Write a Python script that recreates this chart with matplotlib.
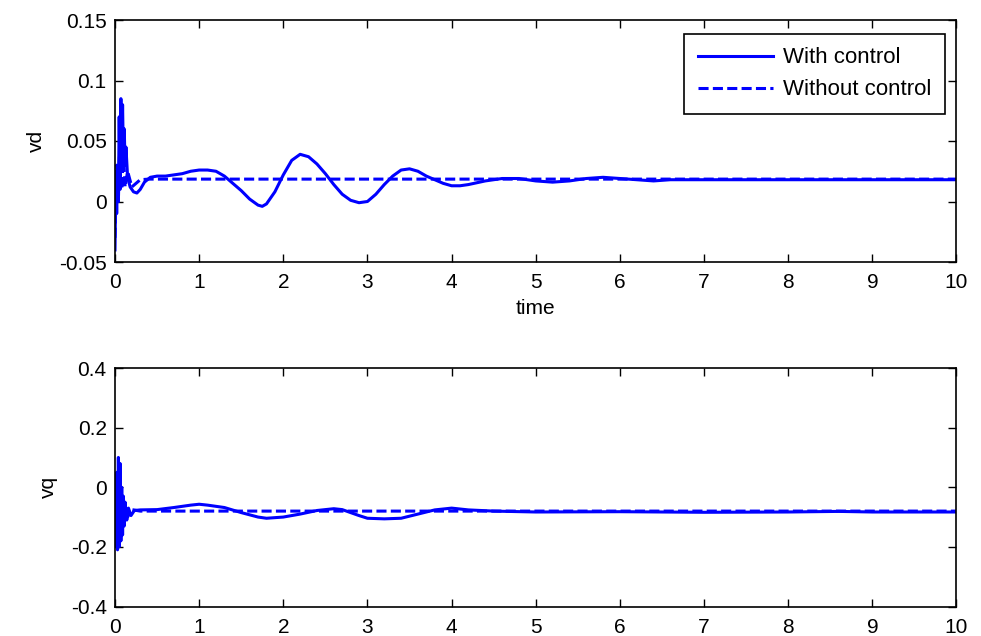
import matplotlib
matplotlib.use("Agg")
import matplotlib.pyplot as plt

plt.rcParams['font.family'] = ['Liberation Sans', 'DejaVu Sans']

# ---------------- data ----------------
t_vd_ctrl = [0, 0.01, 0.02, 0.03, 0.04, 0.05, 0.06, 0.07, 0.08, 0.09, 0.10, 0.11,
             0.12, 0.13, 0.15, 0.18, 0.22, 0.26, 0.30, 0.35, 0.42, 0.5, 0.6, 0.7,
             0.8, 0.9, 1.0, 1.1, 1.2, 1.3, 1.4, 1.5, 1.6, 1.7, 1.75, 1.8, 1.9, 2.0,
             2.1, 2.2, 2.3, 2.4, 2.5, 2.6, 2.7, 2.8, 2.9, 3.0, 3.1, 3.2, 3.3, 3.4,
             3.5, 3.6, 3.7, 3.8, 3.9, 4.0, 4.1, 4.2, 4.4, 4.6, 4.8, 5.0, 5.2, 5.4,
             5.6, 5.8, 6.0, 6.2, 6.4, 6.6, 7.0, 8.0, 9.0, 10.0]
vd_ctrl = [-0.04, 0.02, -0.01, 0.02, 0.0, 0.07, 0.01, 0.085, 0.03, 0.08, 0.035, 0.06,
           0.03, 0.045, 0.02, 0.012, 0.008, 0.007, 0.010, 0.016, 0.020, 0.021, 0.021, 0.022,
           0.023, 0.025, 0.026, 0.026, 0.025, 0.021, 0.015, 0.009, 0.002, -0.003, -0.004, -0.002, 0.008, 0.022,
           0.034, 0.039, 0.037, 0.031, 0.023, 0.014, 0.006, 0.001, -0.001, 0.0, 0.006, 0.014, 0.021, 0.026,
           0.027, 0.025, 0.021, 0.018, 0.015, 0.013, 0.013, 0.014, 0.017, 0.019, 0.019, 0.017, 0.016, 0.017,
           0.019, 0.020, 0.019, 0.018, 0.017, 0.018, 0.018, 0.018, 0.018, 0.018]

t_vd_nctrl = [0, 0.02, 0.04, 0.06, 0.08, 0.10, 0.12, 0.15, 0.20, 0.25, 0.30, 0.40, 10.0]
vd_nctrl = [-0.03, 0.03, 0.0, 0.06, 0.01, 0.04, 0.012, 0.025, 0.012, 0.015, 0.018, 0.0185, 0.0185]

t_vq_ctrl = [0, 0.01, 0.02, 0.03, 0.04, 0.05, 0.06, 0.07, 0.08, 0.09, 0.10, 0.11, 0.12,
             0.14, 0.16, 0.19, 0.23, 0.3, 0.5, 0.7, 0.9, 1.0, 1.1, 1.3, 1.5, 1.7, 1.8,
             2.0, 2.2, 2.4, 2.6, 2.7, 2.9, 3.0, 3.2, 3.4, 3.6, 3.8, 4.0, 4.2, 4.5,
             5.0, 6.0, 7.0, 8.0, 8.6, 9.0, 10.0]
vq_ctrl = [0.0, -0.2, 0.05, -0.21, 0.1, -0.2, 0.08, -0.18, 0.0, -0.16, -0.03, -0.13, -0.05,
           -0.11, -0.07, -0.095, -0.078, -0.076, -0.075, -0.068, -0.060, -0.057, -0.060, -0.068, -0.085, -0.100, -0.104,
           -0.100, -0.090, -0.078, -0.072, -0.075, -0.095, -0.104, -0.106, -0.104, -0.090, -0.076, -0.070, -0.076, -0.080,
           -0.083, -0.082, -0.084, -0.083, -0.081, -0.083, -0.083]

t_vq_nctrl = [0, 0.02, 0.04, 0.06, 0.08, 0.10, 0.12, 0.15, 0.2, 0.3, 10.0]
vq_nctrl = [-0.05, -0.15, 0.0, -0.14, -0.03, -0.12, -0.06, -0.10, -0.075, -0.08, -0.08]

x_ticks = [0, 1, 2, 3, 4, 5, 6, 7, 8, 9, 10]
vd_ticks = [-0.05, 0, 0.05, 0.1, 0.15]
vd_ticklabels = ['-0.05', '0', '0.05', '0.1', '0.15']
vq_ticks = [-0.4, -0.2, 0, 0.2, 0.4]
vq_ticklabels = ['-0.4', '-0.2', '0', '0.2', '0.4']

# ---------------- figure ----------------
fig = plt.figure(figsize=(9.81, 6.36), dpi=100)
W, H = 981, 636
ax1 = fig.add_axes([115 / W, 1 - 262 / H, (956.5 - 115) / W, (262 - 20) / H])
ax2 = fig.add_axes([115 / W, 1 - 606.5 / H, (956.5 - 115) / W, (606.5 - 368) / H])

blue = '#0000FF'
lw = 2.2
dash = (3.3, 1.4)
fs = 15

ax1.plot(t_vd_ctrl, vd_ctrl, color=blue, lw=lw, label='With control')
ax1.plot(t_vd_nctrl, vd_nctrl, color=blue, lw=lw, ls=(0, dash), label='Without control')
ax2.plot(t_vq_ctrl, vq_ctrl, color=blue, lw=lw)
ax2.plot(t_vq_nctrl, vq_nctrl, color=blue, lw=lw, ls=(0, dash))

for ax, yt, ytl, ylab in [(ax1, vd_ticks, vd_ticklabels, 'vd'),
                          (ax2, vq_ticks, vq_ticklabels, 'vq')]:
    ax.set_xlim(0, 10)
    ax.set_ylim(yt[0], yt[-1])
    ax.set_xticks(x_ticks)
    ax.set_xticklabels([str(v) for v in x_ticks])
    ax.set_yticks(yt)
    ax.set_yticklabels(ytl)
    ax.tick_params(direction='in', length=5.5, width=1.0, top=True, right=True,
                   labelsize=fs, colors='black')
    ax.tick_params(axis='x', pad=8)
    ax.tick_params(axis='y', pad=6)
    for s in ax.spines.values():
        s.set_linewidth(1.2)
    ax.set_ylabel(ylab, fontsize=fs, labelpad=9)

ax1.set_xlabel('time', fontsize=fs, labelpad=5)

leg = ax1.legend(loc='upper right', bbox_to_anchor=(945 / W, 1 - 34 / H),
                 bbox_transform=fig.transFigure, borderaxespad=0, fontsize=16,
                 frameon=True, fancybox=False, framealpha=1, edgecolor='black',
                 handlelength=3.4, handletextpad=0.45, labelspacing=0.5, borderpad=0.6)
leg.get_frame().set_linewidth(1.2)

fig.savefig('out.png', dpi=100)
